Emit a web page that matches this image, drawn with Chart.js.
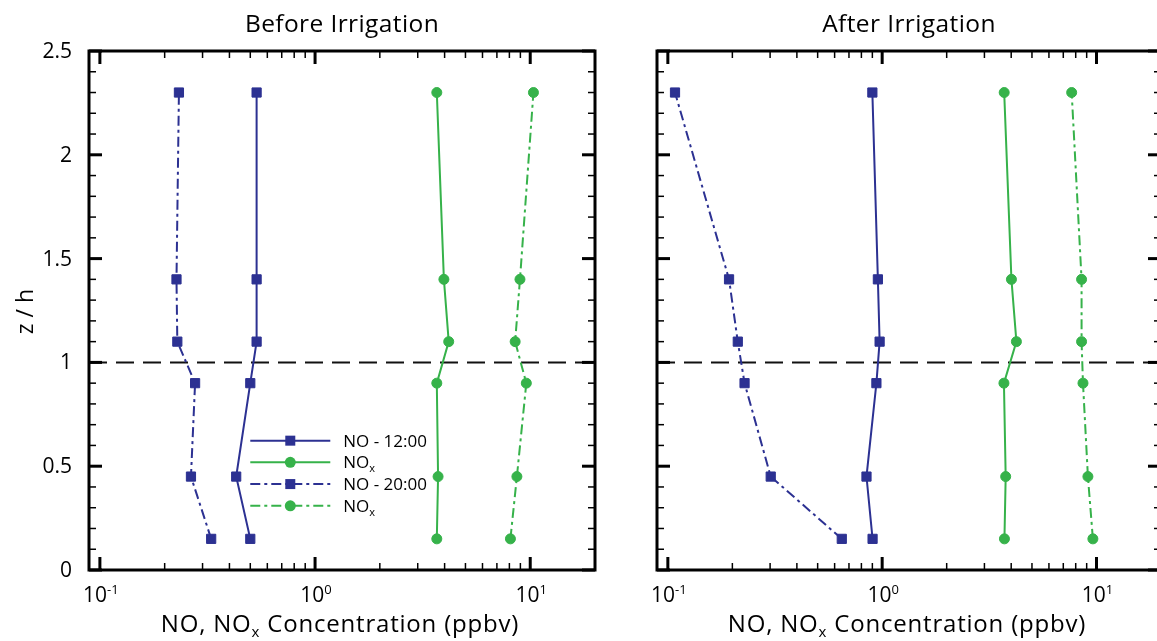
<!DOCTYPE html>
<html>
<head>
<meta charset="utf-8">
<script src="https://cdn.jsdelivr.net/npm/chart.js@4.4.1/dist/chart.umd.min.js"></script>
<style>
html, body { margin: 0; padding: 0; background: #fff; overflow: hidden; }
#wrap { position: relative; width: 1157px; height: 641px; overflow: hidden; background: #fff; }
#left { position: absolute; left: 0; top: 0; }
#right { position: absolute; left: 620px; top: 0; }
</style>
</head>
<body>
<div id="wrap">
  <canvas id="left" width="620" height="641"></canvas>
  <canvas id="right" width="560" height="641"></canvas>
</div>
<script>
// heights z/h of the measurement levels
var heights = [0.15, 0.45, 0.9, 1.1, 1.4, 2.3];

// before irrigation (ppbv)
var beforeNo12  = [0.50, 0.43, 0.50, 0.535, 0.535, 0.535];
var beforeNox12 = [3.68, 3.73, 3.68, 4.18, 3.97, 3.68];
var beforeNo20  = [0.329, 0.265, 0.277, 0.229, 0.227, 0.233];
var beforeNox20 = [8.09, 8.67, 9.59, 8.51, 8.96, 10.35];

// after irrigation (ppbv)
var afterNo12  = [0.902, 0.845, 0.94, 0.973, 0.955, 0.90];
var afterNox12 = [3.72, 3.77, 3.70, 4.23, 4.01, 3.71];
var afterNo20  = [0.648, 0.302, 0.228, 0.212, 0.193, 0.108];
var afterNox20 = [9.62, 9.12, 8.65, 8.52, 8.52, 7.66];

var seriesNames = ['NO - 12:00', 'NOx', 'NO - 20:00', 'NOx'];
var panelTitles = ['Before Irrigation', 'After Irrigation'];
var yTickValues = [0, 0.5, 1, 1.5, 2, 2.5];
var yTickLabels = ['0', '0.5', '1', '1.5', '2', '2.5'];
var xDecades = [0.1, 1, 10];
var xExponents = ['-1', '0', '1'];
var xMin = 0.089, xMax = 20;
var yMin = 0, yMax = 2.5, yMinorStep = 0.1;
var canopyTop = 1;

var BLUE = '#2c3192';
var GREEN = '#36b24a';
var DASHDOT = [10, 4, 3, 4];
var FONT = '"Open Sans", "Noto Sans", sans-serif';

function series(values, label, color, dash, style) {
  return {
    label: label,
    data: values.map(function (v, i) { return { x: v, y: heights[i] }; }),
    showLine: true,
    borderColor: color,
    backgroundColor: color,
    borderWidth: 2,
    borderDash: dash,
    pointStyle: style,
    pointRadius: style === 'rect' ? 6.5 : 5,
    pointBorderWidth: 1,
    pointBorderColor: color,
    pointBackgroundColor: color
  };
}

function datasets(no12, nox12, no20, nox20) {
  return [
    series(no12, seriesNames[0], BLUE, [], 'rect'),
    series(nox12, seriesNames[1], GREEN, [], 'circle'),
    series(no20, seriesNames[2], BLUE, DASHDOT, 'rect'),
    series(nox20, seriesNames[3], GREEN, DASHDOT, 'circle')
  ];
}

function seg(ctx, x1, y1, x2, y2) {
  ctx.beginPath(); ctx.moveTo(x1, y1); ctx.lineTo(x2, y2); ctx.stroke();
}

// text with sub/superscript pieces: parts = [[text, size, dy], ...]
function richText(ctx, parts, x, y, align, spacing) {
  ctx.letterSpacing = (spacing || 0) + 'px';
  var w = 0;
  parts.forEach(function (p) { ctx.font = p[1] + 'px ' + FONT; w += ctx.measureText(p[0]).width; });
  if (align !== 'left') x = x - w / 2;
  ctx.textAlign = 'left';
  ctx.textBaseline = 'alphabetic';
  parts.forEach(function (p) {
    ctx.font = p[1] + 'px ' + FONT;
    ctx.fillText(p[0], x, y + p[2]);
    x += ctx.measureText(p[0]).width;
  });
  ctx.letterSpacing = '0px';
}

var refLine = {
  id: 'refLine',
  beforeDatasetsDraw: function (chart) {
    var ctx = chart.ctx, a = chart.chartArea;
    var py = chart.scales.y.getPixelForValue(canopyTop);
    ctx.save();
    ctx.strokeStyle = '#111';
    ctx.lineWidth = 2;
    ctx.setLineDash([18, 9]);
    seg(ctx, a.left, py, a.right, py);
    ctx.restore();
  }
};

var frame = {
  id: 'frame',
  afterDraw: function (chart, args, opts) {
    var ctx = chart.ctx, a = chart.chartArea;
    var xs = chart.scales.x, ys = chart.scales.y;
    ctx.save();
    ctx.strokeStyle = '#000';
    ctx.fillStyle = '#000';
    ctx.lineCap = 'butt';

    // y ticks, inward on both sides
    var n = Math.round((yMax - yMin) / yMinorStep);
    for (var k = 0; k <= n; k++) {
      var v = yMin + k * yMinorStep;
      var py = ys.getPixelForValue(v);
      var major = k % 5 === 0;
      var len = major ? 13 : 7;
      ctx.lineWidth = major ? 3 : 1.5;
      seg(ctx, a.left, py, a.left + len, py);
      seg(ctx, a.right, py, a.right - len, py);
    }
    // x ticks, inward top and bottom
    xDecades.forEach(function (d) {
      for (var m = 1; m <= 9; m++) {
        var xv = d * m;
        if (xv <= xMin || xv >= xMax) continue;
        var px = xs.getPixelForValue(xv);
        var len = m === 1 ? 13 : 7;
        ctx.lineWidth = m === 1 ? 3 : 1.5;
        seg(ctx, px, a.bottom, px, a.bottom - len);
        seg(ctx, px, a.top, px, a.top + len);
      }
    });
    ctx.lineWidth = 3;
    ctx.strokeRect(a.left, a.top, a.right - a.left, a.bottom - a.top);

    // y tick labels + axis title
    if (opts.yLabels) {
      ctx.font = '21px ' + FONT;
      ctx.textAlign = 'right';
      ctx.textBaseline = 'middle';
      yTickValues.forEach(function (v, i) {
        ctx.fillText(yTickLabels[i], a.left - 17, ys.getPixelForValue(v) + 1);
      });
      ctx.save();
      ctx.translate(26, (a.top + a.bottom) / 2 + 1);
      ctx.rotate(-Math.PI / 2);
      ctx.font = '23px ' + FONT;
      ctx.textAlign = 'center';
      ctx.textBaseline = 'middle';
      ctx.fillText('z / h', 0, 0);
      ctx.restore();
    }

    // x tick labels 10^k
    xDecades.forEach(function (d, i) {
      richText(ctx, [['10', 21, 0], [xExponents[i], 13, -8]], xs.getPixelForValue(d) + 1, a.bottom + 32);
    });

    var cx = (a.left + a.right) / 2;
    // x axis title
    richText(ctx, [['NO, NO', 24, 0], ['x', 15, 5], [' Concentration (ppbv)', 24, 0]], cx - 2, a.bottom + 62, 'center', 0.8);
    // panel title
    richText(ctx, [[opts.title, 24.5, 0]], cx, 32, 'center', 0.4);

    // legend
    if (opts.legend) {
      var lx = xs.getPixelForValue(opts.legend.x);
      var y0 = ys.getPixelForValue(opts.legend.y);
      chart.data.datasets.forEach(function (s, i) {
        var ry = y0 + i * 21.7;
        ctx.strokeStyle = s.borderColor;
        ctx.fillStyle = s.borderColor;
        ctx.lineWidth = 2;
        ctx.setLineDash(s.borderDash);
        seg(ctx, lx, ry, lx + 80, ry);
        ctx.setLineDash([]);
        if (s.pointStyle === 'rect') {
          ctx.fillRect(lx + 40 - 5, ry - 5, 10, 10);
        } else {
          ctx.beginPath(); ctx.arc(lx + 40, ry, 5.5, 0, Math.PI * 2); ctx.fill();
        }
        ctx.fillStyle = '#000';
        if (s.label === 'NOx') {
          richText(ctx, [['NO', 17, 0], ['x', 11, 4]], lx + 93, ry + 6, 'left');
        } else {
          richText(ctx, [[s.label, 17, 0]], lx + 93, ry + 6, 'left');
        }
      });
    }
    ctx.restore();
  }
};

function makeChart(id, data, padding, opts) {
  return new Chart(document.getElementById(id), {
    type: 'scatter',
    data: { datasets: data },
    options: {
      responsive: false,
      animation: false,
      layout: { padding: padding },
      scales: {
        x: { type: 'logarithmic', min: xMin, max: xMax, display: false },
        y: { type: 'linear', min: yMin, max: yMax, display: false }
      },
      plugins: {
        legend: { display: false },
        tooltip: { enabled: false },
        frame: opts
      }
    },
    plugins: [refLine, frame]
  });
}

makeChart('left', datasets(beforeNo12, beforeNox12, beforeNo20, beforeNox20),
  { left: 89, right: 25, top: 51, bottom: 71 },
  { title: panelTitles[0], yLabels: true, legend: { x: 0.5, y: 0.623 } });

makeChart('right', datasets(afterNo12, afterNox12, afterNo20, afterNox20),
  { left: 37, right: 19, top: 51, bottom: 71 },
  { title: panelTitles[1], yLabels: false, legend: null });
</script>
</body>
</html>
